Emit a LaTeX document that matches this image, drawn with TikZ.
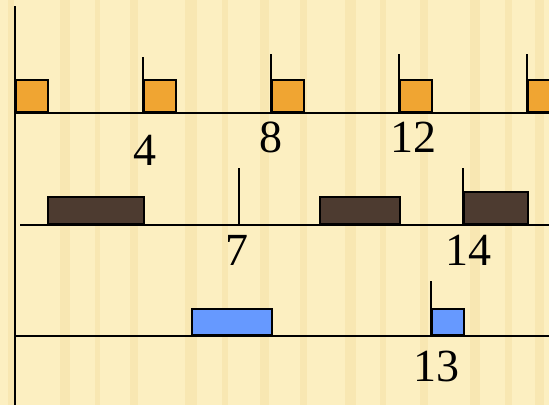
\documentclass[tikz,border=0pt]{standalone}
\usepackage{fontspec}
\setmainfont{Liberation Serif}
\definecolor{bgyel}{HTML}{FCEFC1}
\definecolor{stripe}{HTML}{F5E2A6}
\definecolor{orng}{HTML}{F0A532}
\definecolor{brwn}{HTML}{4D3B30}
\definecolor{blu}{HTML}{6699FF}
\tikzset{
  job/.style={draw=black, line width=1.6pt, anchor=south west, inner sep=0pt, minimum height=#1},
  tickline/.style={draw=black, line width=1.5pt},
  axisline/.style={draw=black, line width=1.6pt},
  num/.style={font=\fontsize{46}{46}\selectfont, inner sep=0pt}
}
\begin{document}
\begin{tikzpicture}[x=1pt,y=-1pt]
\useasboundingbox (0,0) rectangle (549,405);
\fill[bgyel] (0,0) rectangle (549,405);
\foreach \sx/\sw in {8/6,60/10,95/5,130/8,185/12,222/6,260/9,300/7,345/11,380/6,420/8,470/10,505/7,535/9}
  \fill[stripe,opacity=0.55] (\sx,0) rectangle (\sx+\sw,405);
% vertical axis
\coordinate (vtop) at (15,6);
\coordinate (vbot) at (15,405);
\draw[axisline] (vtop) -- (vbot);
% row 1
\coordinate (b1s) at (15,113);
\coordinate (b1e) at (549,113);
\draw[axisline] (b1s) -- (b1e);
\node[job=32pt, minimum width=32pt, fill=orng] (o1) at (15,113) {};
\node[job=32pt, minimum width=32pt, fill=orng] (o2) at (143,113) {};
\node[job=32pt, minimum width=32pt, fill=orng] (o3) at (271,113) {};
\node[job=32pt, minimum width=32pt, fill=orng] (o4) at (399,113) {};
\node[job=32pt, minimum width=32pt, fill=orng] (o5) at (527,113) {};
\coordinate (t4) at (143,57);
\coordinate (t8) at (271,54);
\coordinate (t12) at (399,54);
\coordinate (t16) at (527,54);
\draw[tickline] (t4) -- (o2.south west);
\draw[tickline] (t8) -- (o3.south west);
\draw[tickline] (t12) -- (o4.south west);
\draw[tickline] (t16) -- (o5.south west);
\node[num] (l4) at (145,150) {4};
\node[num] (l8) at (271,137) {8};
\node[num] (l12) at (413,137) {12};
% row 2
\coordinate (b2s) at (20,225);
\coordinate (b2e) at (549,225);
\draw[axisline] (b2s) -- (b2e);
\node[job=27pt, minimum width=96pt, fill=brwn] (d1) at (47,225) {};
\node[job=27pt, minimum width=80pt, fill=brwn] (d2) at (319,225) {};
\node[job=32pt, minimum width=64pt, fill=brwn] (d3) at (463,225) {};
\coordinate (t7) at (239,168);
\coordinate (t7b) at (239,225);
\coordinate (t14) at (463,168);
\draw[tickline] (t7) -- (t7b);
\draw[tickline] (t14) -- (d3.south west);
\node[num] (l7) at (237,250) {7};
\node[num] (l14) at (468,250) {14};
% row 3
\coordinate (b3s) at (15,336);
\coordinate (b3e) at (549,336);
\draw[axisline] (b3s) -- (b3e);
\node[job=26pt, minimum width=80pt, fill=blu] (u1) at (191,336) {};
\node[job=26pt, minimum width=32pt, fill=blu] (u2) at (431,336) {};
\coordinate (t13) at (431,281);
\draw[tickline] (t13) -- (u2.south west);
\node[num] (l13) at (436,366) {13};
\end{tikzpicture}
\end{document}
